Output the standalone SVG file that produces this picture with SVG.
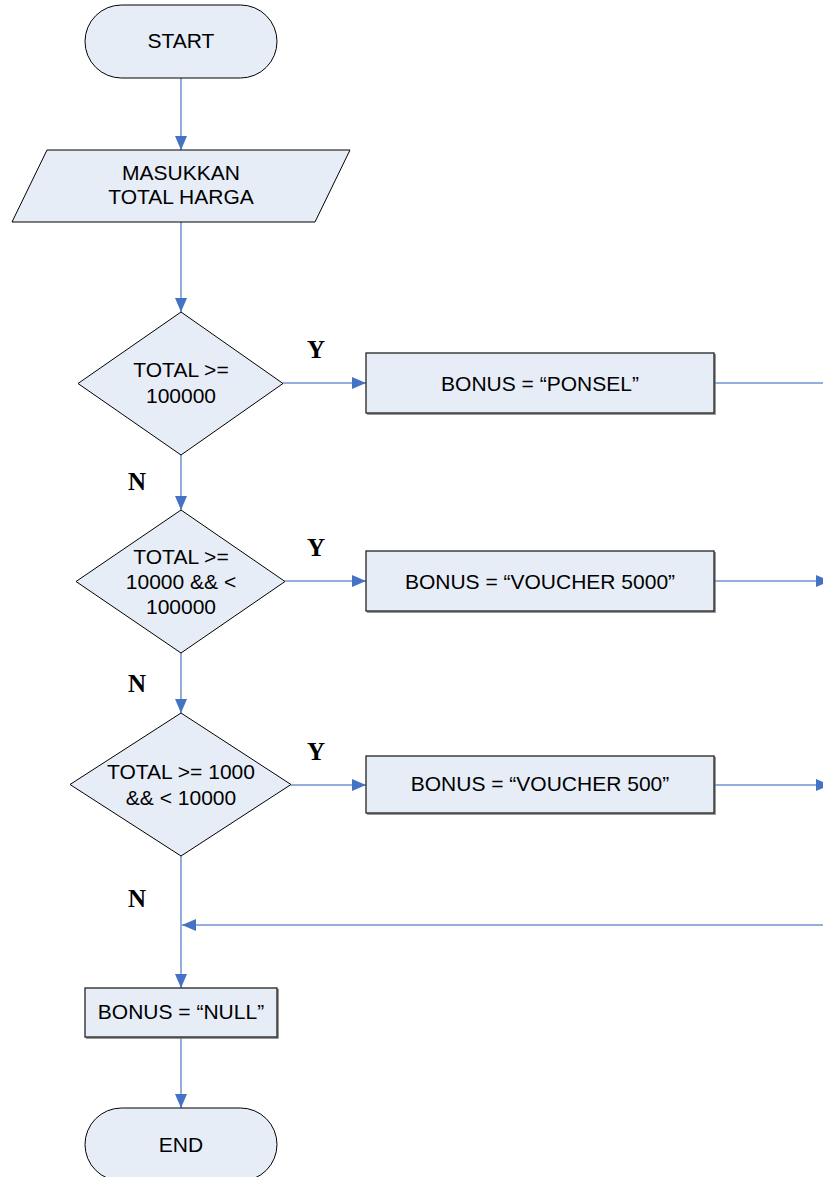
<svg xmlns="http://www.w3.org/2000/svg" width="823" height="1177" viewBox="0 0 823 1177">
<style>
.shape{fill:#E7EDF7;stroke:#000;stroke-width:1}
.box{fill:#E7EDF7;stroke:#222;stroke-width:1.3}
.shadow{fill:none;stroke:#777;stroke-width:1.5}
.t{font-family:"Liberation Sans",Arial,sans-serif;font-size:21px;fill:#000;text-anchor:middle}
.lbl{font-family:"Liberation Serif","Times New Roman",serif;font-size:25px;font-weight:bold;fill:#000;text-anchor:middle}
.c{fill:none;stroke:#6F93D1;stroke-width:1.5}
</style>
<defs>
<marker id="ah" markerUnits="userSpaceOnUse" markerWidth="14" markerHeight="14" viewBox="0 0 14 14" refX="14" refY="7" orient="auto">
<path d="M0,1 L14,7 L0,13 Z" fill="#4472C4"/>
</marker>
</defs>
<g id="connectors">
<line class="c" x1="181" y1="78" x2="181" y2="150" marker-end="url(#ah)"/>
<line class="c" x1="181" y1="222" x2="181" y2="312" marker-end="url(#ah)"/>
<line class="c" x1="283" y1="383" x2="366" y2="383" marker-end="url(#ah)"/>
<line class="c" x1="714" y1="383" x2="823" y2="383"/>
<line class="c" x1="181" y1="455" x2="181" y2="510" marker-end="url(#ah)"/>
<line class="c" x1="285" y1="581" x2="366" y2="581" marker-end="url(#ah)"/>
<line class="c" x1="714" y1="581" x2="830" y2="581" marker-end="url(#ah)"/>
<line class="c" x1="181" y1="653" x2="181" y2="713" marker-end="url(#ah)"/>
<line class="c" x1="291" y1="785" x2="366" y2="785" marker-end="url(#ah)"/>
<line class="c" x1="714" y1="785" x2="830" y2="785" marker-end="url(#ah)"/>
<line class="c" x1="181" y1="856" x2="181" y2="988" marker-end="url(#ah)"/>
<line class="c" x1="823" y1="925" x2="182" y2="925" marker-end="url(#ah)"/>
<line class="c" x1="181" y1="1037" x2="181" y2="1108" marker-end="url(#ah)"/>
</g>
<g id="labels">
<text class="lbl" x="316" y="358">Y</text>
<text class="lbl" x="316" y="556">Y</text>
<text class="lbl" x="316" y="760">Y</text>
<text class="lbl" x="137" y="490">N</text>
<text class="lbl" x="137" y="692">N</text>
<text class="lbl" x="137" y="907">N</text>
</g>
<g id="start">
<rect class="shape" x="85" y="5" width="192" height="73" rx="36.5" ry="36.5"/>
<text class="t" x="181" y="48">START</text>
</g>
<g id="input">
<polygon class="shape" points="47,150 350,150 315,222 12,222"/>
<text class="t" x="181" y="180">MASUKKAN</text>
<text class="t" x="181" y="204">TOTAL HARGA</text>
</g>
<g id="decision1">
<polygon class="shape" points="181,312 283,383.5 181,455 78,383.5"/>
<text class="t" x="181" y="377">TOTAL &gt;=</text>
<text class="t" x="181" y="403">100000</text>
</g>
<g id="bonus-ponsel">
<polyline class="shadow" points="715,354 715,414 367,414"/>
<rect class="box" x="366" y="353" width="348" height="60"/>
<text class="t" x="540" y="391">BONUS = “PONSEL”</text>
</g>
<g id="decision2">
<polygon class="shape" points="181,510 285,581.5 181,653 76,581.5"/>
<text class="t" x="181" y="564">TOTAL &gt;=</text>
<text class="t" x="181" y="589">10000 &amp;&amp; &lt;</text>
<text class="t" x="181" y="614">100000</text>
</g>
<g id="bonus-voucher5000">
<polyline class="shadow" points="715,552 715,612 367,612"/>
<rect class="box" x="366" y="551" width="348" height="60"/>
<text class="t" x="540" y="589">BONUS = “VOUCHER 5000”</text>
</g>
<g id="decision3">
<polygon class="shape" points="181,713 291,784.5 181,856 70,784.5"/>
<text class="t" x="181" y="779">TOTAL &gt;= 1000</text>
<text class="t" x="181" y="805">&amp;&amp; &lt; 10000</text>
</g>
<g id="bonus-voucher500">
<polyline class="shadow" points="715,757 715,814 367,814"/>
<rect class="box" x="366" y="756" width="348" height="57"/>
<text class="t" x="540" y="791">BONUS = “VOUCHER 500”</text>
</g>
<g id="bonus-null">
<polyline class="shadow" points="278,989 278,1038 86,1038"/>
<rect class="box" x="85" y="988" width="192" height="49"/>
<text class="t" x="181" y="1019">BONUS = “NULL”</text>
</g>
<g id="end">
<rect class="shape" x="85" y="1108" width="192" height="73" rx="36.5" ry="36.5"/>
<text class="t" x="181" y="1152">END</text>
</g>
</svg>
